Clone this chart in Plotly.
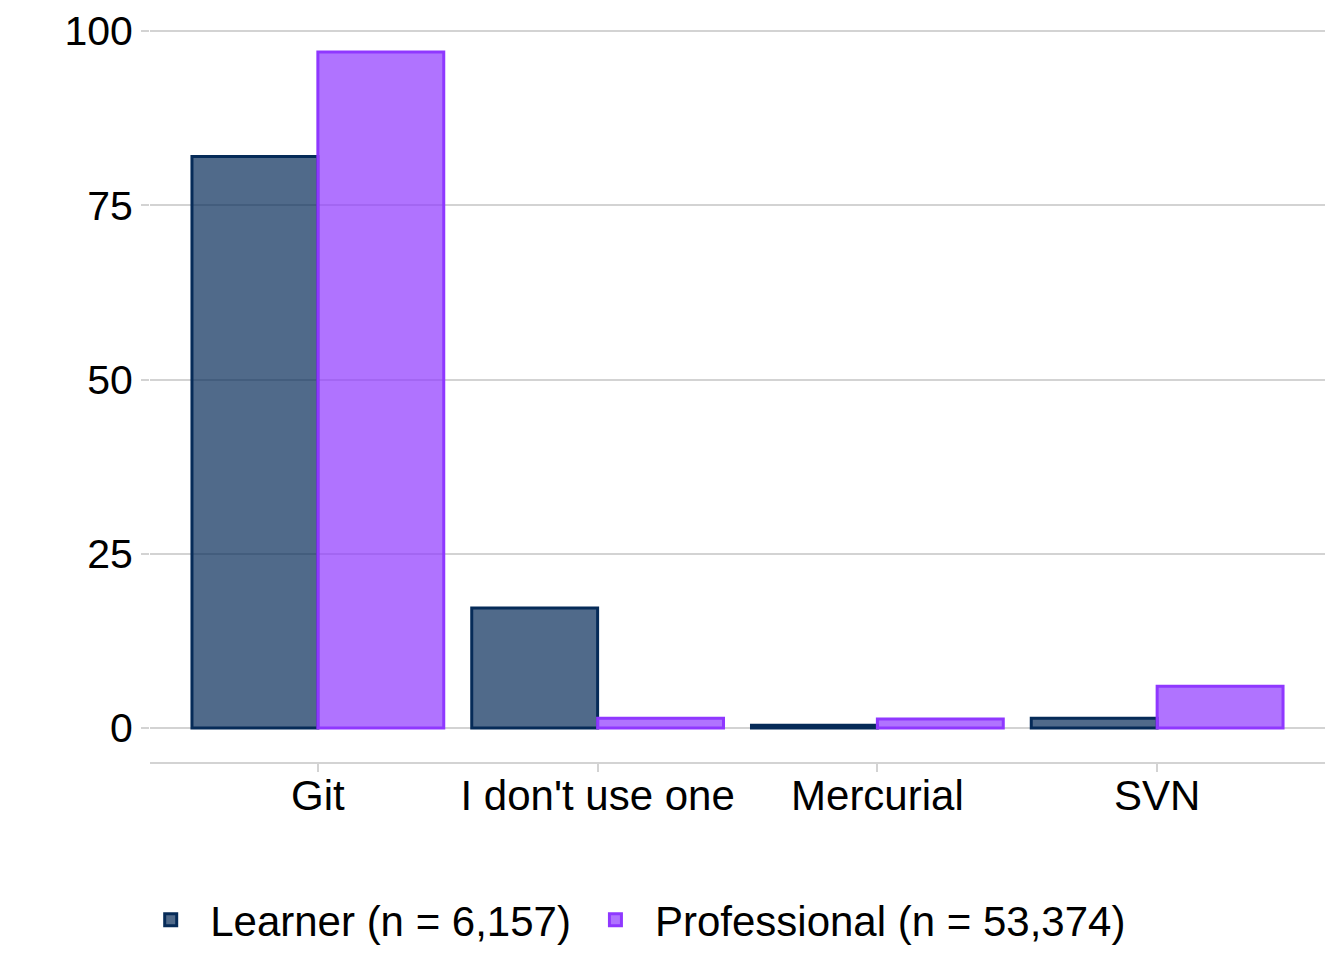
import plotly.graph_objects as go

# Data
tools = ["Git", "I don't use one", "Mercurial", "SVN"]
learner = [82.0, 17.2, 0.4, 1.4]
professional = [97.0, 1.4, 1.3, 6.0]
learner_name = "Learner (n = 6,157)"
professional_name = "Professional (n = 53,374)"

navy = "rgb(6,43,88)"
purple = "rgb(143,56,255)"

fig = go.Figure()
fig.add_trace(go.Bar(x=tools, y=learner, name=learner_name,
                     marker=dict(color="rgba(6,43,88,0.7)",
                                 line=dict(color=navy, width=3))))
fig.add_trace(go.Bar(x=tools, y=professional, name=professional_name,
                     marker=dict(color="rgba(143,56,255,0.7)",
                                 line=dict(color=purple, width=3))))

fig.update_layout(
    width=1344, height=960,
    barmode="group", bargap=0.1, bargroupgap=0,
    plot_bgcolor="white", paper_bgcolor="white",
    font=dict(family="Liberation Sans, Arial, sans-serif", size=42, color="black"),
    margin=dict(l=142, r=27, t=12, b=206, autoexpand=False),
    legend=dict(orientation="h", x=-0.016, xanchor="left", y=-0.213, yanchor="middle",
                font=dict(size=42), itemwidth=69, tracegroupgap=0),
    showlegend=True,
)
fig.update_xaxes(range=[-0.6, 3.6], showgrid=False, showline=True,
                 linecolor="#d3d3d3", linewidth=2, ticks="outside",
                 ticklen=8, tickcolor="#d3d3d3", tickwidth=2,
                 ticklabelstandoff=-12, automargin=False)
fig.update_yaxes(range=[-4.88, 101.58], tickvals=[0, 25, 50, 75, 100],
                 showgrid=True, gridcolor="#d3d3d3", gridwidth=2,
                 zeroline=False, showline=False, ticks="outside",
                 ticklen=8, tickcolor="#d3d3d3", tickwidth=2,
                 tickfont=dict(size=41), ticklabelstandoff=0, automargin=False)

fig.write_html("out.html")
